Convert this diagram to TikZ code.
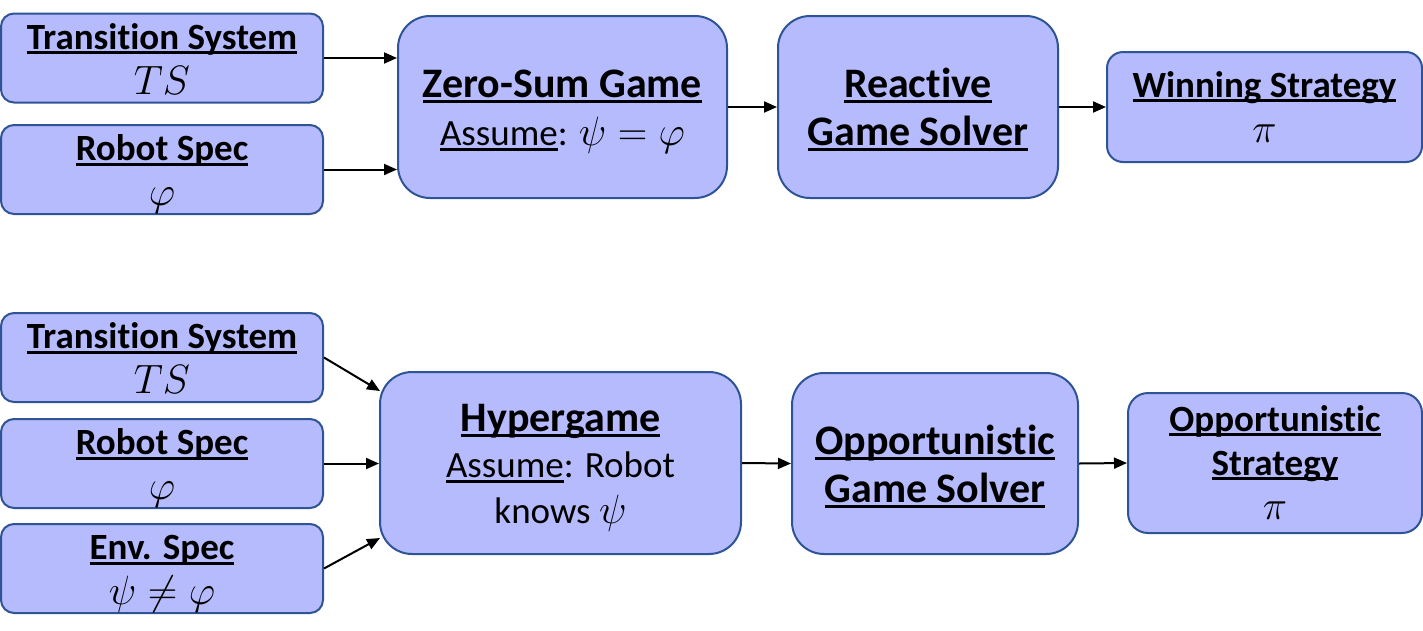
\documentclass[tikz,border=0pt]{standalone}
\usepackage{fix-cm}
\usepackage{fontspec}
\setmainfont{Carlito}[Ligatures=NoCommon]
\usetikzlibrary{arrows.meta}
\definecolor{boxfill}{RGB}{181,187,252}
\definecolor{boxdraw}{RGB}{47,84,150}
\newcommand\ulw[1]{\setbox0=\hbox{#1}\rlap{\rule[-0.14em]{\wd0}{0.075em}}\box0}
\newcommand\mth{\fontsize{41}{45}\selectfont}
\tikzset{
  box/.style={draw=boxdraw, fill=boxfill, line width=2pt, align=center, inner sep=0pt},
  sbox/.style={box, rounded corners=13pt, minimum width=322pt, minimum height=89pt, font=\fontsize{37}{45}\selectfont, text height=79pt, text depth=7pt},
  bbox/.style={box, rounded corners=32pt, minimum height=182pt, font=\fontsize{42}{48}\selectfont, text height=83pt, text depth=6pt},
  obox/.style={box, rounded corners=16pt, font=\fontsize{37}{45}\selectfont, text height=78pt, text depth=8pt},
  conn/.style={line width=2pt, -{Triangle[length=13pt,width=11pt]}}
}
\begin{document}
\begin{tikzpicture}[x=1pt,y=-1pt]
\useasboundingbox (0,0) rectangle (1423,630);
% top row
\node[sbox] (ts1) at (162,58) {\ulw{\bfseries Transition System}\\{\mth$TS$}};
\node[sbox] (rs1) at (162,169.5) {\ulw{\bfseries Robot Spec}\\{\mth$\varphi$}};
\node[bbox, minimum width=329pt] (zsg) at (562.5,107) {\ulw{\bfseries Zero-Sum Game}\\{\fontsize{37}{48}\selectfont\ulw{Assume}: {\mth$\psi=\varphi$}}};
\node[bbox, minimum width=280pt] (rgs) at (918,107) {\ulw{\bfseries Reactive}\\\ulw{\bfseries Game Solver}};
\node[obox, minimum width=315pt, minimum height=110pt] (ws) at (1264.5,107) {\ulw{\bfseries Winning Strategy}\\{\mth$\pi$}};
% bottom row
\node[sbox] (ts2) at (162,357.5) {\ulw{\bfseries Transition System}\\{\mth$TS$}};
\node[sbox] (rs2) at (162,463.5) {\ulw{\bfseries Robot Spec}\\{\mth$\varphi$}};
\node[sbox] (es) at (162,568.5) {\ulw{\bfseries Env. Spec}\\{\mth$\psi\neq\varphi$}};
\node[bbox, minimum width=361pt, font=\fontsize{42}{46}\selectfont, text height=127pt] (hg) at (560.5,463) {\ulw{\bfseries Hypergame}\\{\fontsize{37}{46}\selectfont\ulw{Assume}: Robot}\\{\fontsize{37}{46}\selectfont knows {\mth$\psi$}}};
\node[bbox, minimum width=286pt, minimum height=181pt] (ogs) at (935,463.5) {\ulw{\bfseries Opportunistic}\\\ulw{\bfseries Game Solver}};
\node[obox, rounded corners=20pt, minimum width=294pt, minimum height=130pt, font=\fontsize{37}{44}\selectfont, text height=126pt, text depth=14pt] (os) at (1275,463) {\ulw{\bfseries Opportunistic}\\\ulw{\bfseries Strategy}\\{\mth$\pi$}};
\coordinate (hgA) at (380,391);
\coordinate (hgC) at (380,538);
% connectors
\draw[conn] (ts1.east) -- (ts1.east -| zsg.west);
\draw[conn] (rs1.east) -- (rs1.east -| zsg.west);
\draw[conn] (zsg.east) -- (rgs.west);
\draw[conn] (rgs.east) -- (ws.west);
\draw[conn] (ts2.east) -- (hgA);
\draw[conn] (rs2.east) -- (rs2.east -| hg.west);
\draw[conn] (es.east) -- (hgC);
\draw[conn] (hg.east) -- (ogs.west);
\draw[conn] (ogs.east) -- (os.west);
\end{tikzpicture}
\end{document}
